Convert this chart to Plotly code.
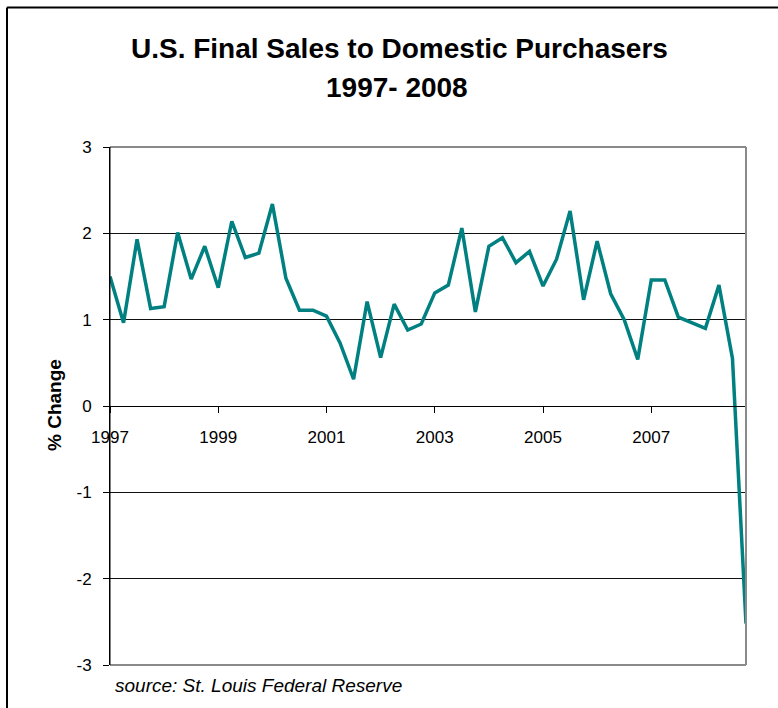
import plotly.graph_objects as go

# ---- data ----
years = ["1997", "1998", "1999", "2000", "2001", "2002", "2003", "2004",
         "2005", "2006", "2007", "2008"]
quarters = [f"{y}Q{q}" for y in years for q in (1, 2, 3, 4)]
pct_change = [1.50, 0.965, 1.93, 1.13,
              1.15, 2.01, 1.47, 1.85,
              1.37, 2.14, 1.72, 1.77,
              2.34, 1.48, 1.11, 1.11,
              1.04, 0.73, 0.31, 1.21,
              0.56, 1.18, 0.88, 0.95,
              1.31, 1.40, 2.06, 1.09,
              1.85, 1.95, 1.66, 1.79,
              1.39, 1.70, 2.26, 1.23,
              1.91, 1.30, 1.00, 0.54,
              1.46, 1.46, 1.03, 0.96,
              0.90, 1.40, 0.55, -2.52]
tick_quarters = ["1997Q1", "1999Q1", "2001Q1", "2003Q1", "2005Q1", "2007Q1"]
tick_labels = ["1997", "1999", "2001", "2003", "2005", "2007"]
y_ticks = [-3, -2, -1, 0, 1, 2, 3]
y_tick_labels = [str(v) for v in y_ticks]

# ---- layout geometry (page pixels; body margin removed below) ----
W, H = 778, 708
L, R, T, B = 110, 746, 147, 665
pw, ph = R - L, B - T


def px(x):
    return (x - L) / pw


def py(y):
    return (B - y) / ph


FONT = "Liberation Sans, Arial, Helvetica, sans-serif"

fig = go.Figure()
fig.add_trace(go.Scatter(
    x=quarters, y=pct_change, mode="lines",
    line=dict(color="#008080", width=3.5),
    hoverinfo="x+y", showlegend=False,
))

fig.update_layout(
    width=W, height=H,
    margin=dict(l=L, r=W - R, t=T, b=H - B, pad=0, autoexpand=False),
    paper_bgcolor="white", plot_bgcolor="white",
    font=dict(family=FONT, color="black", size=17),
    xaxis=dict(
        type="category", range=[0, len(quarters) - 1],
        tickmode="array", tickvals=tick_quarters, ticktext=tick_labels,
        showgrid=False, zeroline=False,
        showline=True, linecolor="black", linewidth=1,
        ticks="outside", ticklen=6, tickcolor="black", tickwidth=1,
        anchor="free", position=0.5, automargin=False,
        ticklabelstandoff=10,
        tickfont=dict(size=17),
    ),
    yaxis=dict(
        range=[-3, 3], tickmode="array", tickvals=y_ticks,
        ticktext=y_tick_labels,
        showgrid=True, gridcolor="#111111", gridwidth=1,
        zeroline=False, automargin=False,
        showline=True, linecolor="black", linewidth=1,
        ticks="outside", ticklen=6, tickcolor="black", tickwidth=1,
        ticklabelstandoff=8,
        tickfont=dict(size=17),
    ),
    shapes=[
        # plot-area border (gray) on top, right and bottom
        dict(type="line", xref="x domain", yref="y domain",
             x0=0, x1=1, y0=1, y1=1,
             line=dict(color="#8a8a8a", width=2), layer="above"),
        dict(type="line", xref="x domain", yref="y domain",
             x0=1, x1=1, y0=0, y1=1,
             line=dict(color="#8a8a8a", width=2), layer="above"),
        dict(type="line", xref="x domain", yref="y domain",
             x0=0, x1=1, y0=0, y1=0,
             line=dict(color="#8a8a8a", width=2), layer="above"),
        # left axis line redrawn in black above border
        dict(type="line", xref="x domain", yref="y domain",
             x0=0, x1=0, y0=0, y1=1,
             line=dict(color="black", width=1), layer="above"),
        # outer chart frame (left and top edges visible)
        dict(type="line", xref="paper", yref="paper",
             x0=px(7), x1=px(7), y0=py(730), y1=py(7.5),
             line=dict(color="black", width=2), layer="above"),
        dict(type="line", xref="paper", yref="paper",
             x0=px(7), x1=px(800), y0=py(7.5), y1=py(7.5),
             line=dict(color="black", width=2), layer="above"),
    ],
    annotations=[
        dict(text="<b>U.S. Final Sales to Domestic Purchasers</b>",
             xref="paper", yref="paper", x=px(399), y=py(48),
             xanchor="center", yanchor="middle", showarrow=False,
             font=dict(size=28, family=FONT)),
        dict(text="<b>1997- 2008</b>",
             xref="paper", yref="paper", x=px(397), y=py(88),
             xanchor="center", yanchor="middle", showarrow=False,
             font=dict(size=28, family=FONT)),
        dict(text="<b>% Change</b>", textangle=-90,
             xref="paper", yref="paper", x=px(54), y=py(405),
             xanchor="center", yanchor="middle", showarrow=False,
             font=dict(size=19, family=FONT)),
        dict(text="<i>source: St. Louis Federal Reserve</i>",
             xref="paper", yref="paper", x=px(113), y=py(685),
             xanchor="left", yanchor="middle", showarrow=False,
             font=dict(size=19, family=FONT)),
    ],
)

fig.write_html(
    "out.html",
    config={"displayModeBar": False},
    post_script="document.body.style.margin='0px';"
                "document.body.style.overflow='hidden';",
)
